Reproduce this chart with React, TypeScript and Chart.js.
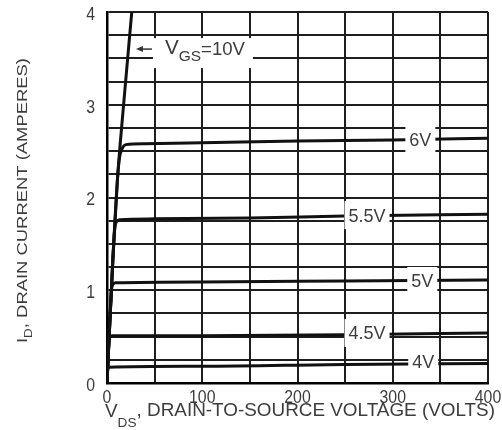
import React, { useEffect, useRef } from "react";
import { Chart, registerables } from "chart.js";

Chart.register(...registerables);

// ---- data ----
const curveNames = ["10V", "6V", "5.5V", "5V", "4.5V", "4V"];

const vds10 = [0, 6, 11, 17, 26];
const id10 = [0, 1.3, 2.2, 2.95, 4];

const vds6 = [0, 6, 11, 13, 16, 20, 40, 100, 200, 300, 400];
const id6 = [0, 1.3, 2.2, 2.42, 2.53, 2.57, 2.58, 2.59, 2.61, 2.62, 2.64];

const vds55 = [0, 6, 8, 10, 14, 50, 150, 250, 400];
const id55 = [0, 1.3, 1.65, 1.74, 1.76, 1.77, 1.78, 1.8, 1.82];

const vds5 = [0, 4.5, 6, 9, 100, 250, 400];
const id5 = [0, 0.98, 1.06, 1.08, 1.09, 1.1, 1.11];

const vds45 = [0, 2, 3.5, 6, 100, 250, 400];
const id45 = [0, 0.44, 0.5, 0.51, 0.51, 0.52, 0.54];

const vds4 = [0, 0.8, 2, 100, 250, 400];
const id4 = [0, 0.16, 0.17, 0.18, 0.2, 0.21];

const xTickLabels = ["0", "100", "200", "300", "400"];
const yTickLabels = ["0", "1", "2", "3", "4"];

// curve label anchors (V, A)
const labelTexts = ["6V", "5.5V", "5V", "4.5V", "4V"];
const labelV = [329, 273, 331, 273, 332];
const labelI = [2.62, 1.81, 1.1, 0.54, 0.23];

// V_GS = 10V arrow tip (V, A)
const arrowTipV = 30.4;
const arrowTipI = 3.6;

const TEXT = "#3c3c3c";
const FONT = "'Liberation Sans', Arial, Helvetica, sans-serif";

type Part = { t: string; size: number; dy: number };

function richWidth(ctx: CanvasRenderingContext2D, parts: Part[]) {
  let w = 0;
  for (const p of parts) {
    ctx.font = `${p.size}px ${FONT}`;
    w += ctx.measureText(p.t).width;
  }
  return w;
}

function drawRich(ctx: CanvasRenderingContext2D, parts: Part[], target: number) {
  const w = richWidth(ctx, parts);
  const sx = target / w;
  ctx.save();
  ctx.scale(sx, 1);
  let x = 0;
  ctx.textAlign = "left";
  ctx.textBaseline = "alphabetic";
  for (const p of parts) {
    ctx.font = `${p.size}px ${FONT}`;
    ctx.fillText(p.t, x, p.dy);
    x += ctx.measureText(p.t).width;
  }
  ctx.restore();
}

const overlayPlugin = {
  id: "overlay",
  afterDraw(chart: any) {
    const ctx: CanvasRenderingContext2D = chart.ctx;
    const xs = chart.scales.x;
    const ys = chart.scales.y;
    ctx.save();
    ctx.fillStyle = TEXT;

    // y tick labels
    ctx.font = `18px ${FONT}`;
    yTickLabels.forEach((lab) => {
      const py = ys.getPixelForValue(Number(lab));
      ctx.save();
      ctx.translate(95, py + 3);
      ctx.scale(0.88, 1);
      ctx.textAlign = "right";
      ctx.textBaseline = "middle";
      ctx.fillText(lab, 0, 0);
      ctx.restore();
    });
    // x tick labels
    xTickLabels.forEach((lab) => {
      const px = xs.getPixelForValue(Number(lab));
      ctx.save();
      ctx.translate(px, 398);
      ctx.scale(0.88, 1);
      ctx.textAlign = "center";
      ctx.textBaseline = "middle";
      ctx.fillText(lab, 0, 0);
      ctx.restore();
    });

    // x title
    ctx.save();
    ctx.translate(105, 416);
    drawRich(
      ctx,
      [
        { t: "V", size: 18, dy: 1 },
        { t: "DS", size: 13, dy: 11 },
        { t: ", DRAIN-TO-SOURCE VOLTAGE (VOLTS)", size: 18, dy: 0 },
      ],
      390
    );
    ctx.restore();

    // y title
    ctx.save();
    ctx.translate(27, 343);
    ctx.rotate(-Math.PI / 2);
    drawRich(
      ctx,
      [
        { t: "I", size: 15, dy: 0 },
        { t: "D", size: 11, dy: 5 },
        { t: ", DRAIN CURRENT (AMPERES)", size: 15, dy: 0 },
      ],
      285
    );
    ctx.restore();

    // curve labels with white boxes
    ctx.font = `18px ${FONT}`;
    labelTexts.forEach((t, i) => {
      const px = xs.getPixelForValue(labelV[i]);
      const py = ys.getPixelForValue(labelI[i]);
      const w = ctx.measureText(t).width;
      ctx.fillStyle = "#ffffff";
      ctx.fillRect(px - w / 2 - 4, py - 14, w + 8, 28);
      ctx.fillStyle = TEXT;
      ctx.textAlign = "center";
      ctx.textBaseline = "alphabetic";
      ctx.fillText(t, px, py + 6.5);
    });

    // V_GS = 10V label with arrow
    const tx = xs.getPixelForValue(arrowTipV);
    const ty = ys.getPixelForValue(arrowTipI);
    ctx.fillStyle = "#ffffff";
    ctx.fillRect(tx + 17, ty - 11, 100, 30);
    ctx.strokeStyle = "#333";
    ctx.lineWidth = 1.5;
    ctx.beginPath();
    ctx.moveTo(tx + 3, ty);
    ctx.lineTo(tx + 16, ty);
    ctx.stroke();
    ctx.fillStyle = "#333";
    ctx.beginPath();
    ctx.moveTo(tx, ty);
    ctx.lineTo(tx + 7, ty - 3);
    ctx.lineTo(tx + 7, ty + 3);
    ctx.closePath();
    ctx.fill();
    ctx.fillStyle = TEXT;
    ctx.save();
    ctx.translate(tx + 29, ty + 5);
    drawRich(
      ctx,
      [
        { t: "V", size: 20, dy: 0 },
        { t: "GS", size: 15, dy: 7 },
        { t: "=10V", size: 18, dy: 1 },
      ],
      80
    );
    ctx.restore();

    ctx.restore();
  },
};

function pts(xs: number[], ys: number[]) {
  return xs.map((x, i) => ({ x, y: ys[i] }));
}

export default function App() {
  const ref = useRef<HTMLCanvasElement | null>(null);
  useEffect(() => {
    if (!ref.current) return;
    const series = [
      pts(vds10, id10),
      pts(vds6, id6),
      pts(vds55, id55),
      pts(vds5, id5),
      pts(vds45, id45),
      pts(vds4, id4),
    ];
    const chart = new Chart(ref.current, {
      type: "scatter",
      data: {
        datasets: series.map((d, i) => ({
          label: curveNames[i],
          data: d,
          showLine: true,
          borderColor: "#111111",
          borderWidth: 3,
          pointRadius: 0,
          cubicInterpolationMode: "monotone" as const,
          fill: false,
        })),
      },
      plugins: [overlayPlugin],
      options: {
        responsive: false,
        animation: false,
        layout: { padding: { left: 0, right: 14, top: 12, bottom: 0 } },
        plugins: {
          legend: { display: false },
          tooltip: { enabled: false },
        },
        scales: {
          x: {
            type: "linear",
            min: 0,
            max: 400,
            ticks: { stepSize: 50, display: false },
            grid: { color: "#1e1e1e", lineWidth: 2, drawTicks: false },
            border: { display: true, color: "#000", width: 2.5 },
            afterFit: (s: any) => {
              s.height = 47;
            },
          },
          y: {
            type: "linear",
            min: 0,
            max: 4,
            ticks: { stepSize: 0.25, display: false },
            grid: { color: "#1e1e1e", lineWidth: 2, drawTicks: false },
            border: { display: true, color: "#000", width: 2.5 },
            afterFit: (s: any) => {
              s.width = 107;
            },
          },
        },
      } as any,
    });
    return () => chart.destroy();
  }, []);
  return (
    <div
      style={{
        position: "fixed",
        left: 0,
        top: 0,
        width: 502,
        height: 430,
        background: "#fff",
      }}
    >
      <canvas ref={ref} width={502} height={430} />
    </div>
  );
}
